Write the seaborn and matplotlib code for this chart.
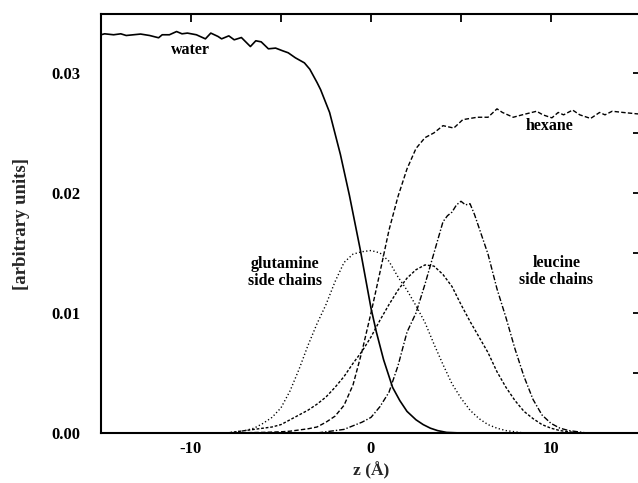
import matplotlib
matplotlib.use("Agg")
import matplotlib.pyplot as plt
import seaborn as sns
import pandas as pd

# --- density profiles across the interface (z in Angstrom) ---
water_z = [-15.0, -14.8, -14.3, -13.9, -13.6, -13.2, -12.8, -12.3, -11.8, -11.6,
           -11.2, -10.8, -10.5, -10.2, -9.7, -9.2, -8.9, -8.5, -8.3, -7.9,
           -7.6, -7.2, -6.7, -6.4, -6.1, -5.7, -5.3, -4.9, -4.6, -4.2,
           -3.7, -3.4, -3.0, -2.8, -2.3, -1.7, -1.2, -0.6, 0.0, 0.3,
           0.7, 1.2, 1.6, 2.0, 2.5, 2.9, 3.3, 3.7, 4.2, 5.0, 10.0, 15.0]
water_v = [0.03317, 0.03325, 0.03317, 0.03325, 0.03311, 0.03317, 0.03323, 0.03311, 0.03292, 0.03317,
           0.03317, 0.03344, 0.03325, 0.03331, 0.03317, 0.03283, 0.03331, 0.03303, 0.03283, 0.03308,
           0.03275, 0.03294, 0.03219, 0.03267, 0.03258, 0.03200, 0.03206, 0.03183, 0.03167, 0.03125,
           0.03083, 0.03030, 0.02920, 0.02860, 0.02670, 0.02320, 0.01980, 0.01530, 0.01040, 0.00840,
           0.00610, 0.00380, 0.00270, 0.00180, 0.00110, 0.00070, 0.00040, 0.00020, 0.00005, 0.0, 0.0, 0.0]

hexane_z = [-15.0, -8.0, -6.0, -5.0, -4.5, -4.0, -3.5, -3.0, -2.5, -2.0,
            -1.5, -1.0, -0.5, 0.0, 0.5, 1.0, 1.5, 2.0, 2.5, 3.0,
            3.5, 4.0, 4.6, 5.1, 5.5, 5.9, 6.5, 7.0, 7.3, 7.9,
            8.4, 9.2, 9.55, 10.05, 10.4, 10.7, 11.2, 11.6, 12.2, 12.7,
            13.0, 13.4, 14.0, 14.8, 15.0]
hexane_v = [0.0, 0.0, 0.00005, 0.0001, 0.00015, 0.00025, 0.00035, 0.0005, 0.0009, 0.0014,
            0.0023, 0.0040, 0.0068, 0.0100, 0.0134, 0.0169, 0.0197, 0.0220, 0.0237, 0.0246,
            0.0250, 0.0256, 0.0254, 0.0261, 0.0262, 0.0263, 0.0263, 0.0270, 0.0267, 0.0263,
            0.0265, 0.0268, 0.0265, 0.02625, 0.0267, 0.0265, 0.0269, 0.0265, 0.0262, 0.0267,
            0.0265, 0.0268, 0.0267, 0.02658, 0.0266]

glutamine_z = [-15.0, -8.0, -7.5, -7.0, -6.5, -6.0, -5.5, -5.0, -4.5, -4.0,
               -3.5, -3.0, -2.5, -2.0, -1.5, -1.0, -0.5, 0.0, 0.5, 1.0,
               1.5, 2.0, 2.5, 3.0, 3.5, 4.0, 4.5, 5.0, 5.5, 6.0,
               6.5, 7.0, 7.5, 8.0, 8.5, 15.0]
glutamine_v = [0.0, 0.0, 0.0001, 0.0002, 0.0004, 0.0008, 0.0013, 0.0021, 0.0035, 0.0053,
               0.0073, 0.0091, 0.0107, 0.0126, 0.0142, 0.0149, 0.0151, 0.0152, 0.0150, 0.0143,
               0.0130, 0.0119, 0.0106, 0.0092, 0.0074, 0.0057, 0.0041, 0.0029, 0.0019, 0.0012,
               0.0007, 0.0004, 0.0002, 0.0001, 0.0, 0.0]

# second, short-dashed distribution peaking near z = 3
middle_z = [-15.0, -8.0, -7.5, -7.0, -6.5, -6.0, -5.5, -5.0, -4.5, -4.0,
            -3.5, -3.0, -2.5, -2.0, -1.5, -1.0, -0.5, 0.0, 0.5, 1.0,
            1.5, 2.0, 2.5, 3.0, 3.5, 4.0, 4.5, 5.0, 5.5, 6.0,
            6.5, 7.0, 7.5, 8.0, 8.5, 9.0, 9.5, 10.0, 10.5, 11.0,
            11.5, 15.0]
middle_v = [0.0, 0.0, 0.0001, 0.0002, 0.0003, 0.0004, 0.0005, 0.0007, 0.0011, 0.0015,
            0.0019, 0.0024, 0.0030, 0.0038, 0.0047, 0.0058, 0.0068, 0.0080, 0.0094, 0.0107,
            0.0119, 0.0129, 0.0136, 0.0140, 0.0139, 0.0132, 0.0122, 0.0107, 0.0093, 0.0080,
            0.0067, 0.0051, 0.0038, 0.0027, 0.0018, 0.0012, 0.0007, 0.0004, 0.0002, 0.0001,
            0.0, 0.0]

leucine_z = [-15.0, -3.0, -2.5, -2.0, -1.5, -1.0, -0.5, 0.0, 0.5, 1.0,
             1.5, 2.0, 2.5, 3.0, 3.5, 4.0, 4.25, 4.5, 4.75, 5.0,
             5.25, 5.5, 5.75, 6.0, 6.5, 7.0, 7.5, 8.0, 8.5, 9.0,
             9.5, 10.0, 10.5, 11.0, 11.5, 12.0, 15.0]
leucine_v = [0.0, 0.0, 0.0001, 0.0002, 0.0003, 0.0006, 0.0009, 0.0013, 0.0022, 0.0034,
             0.0056, 0.0084, 0.0100, 0.0124, 0.0150, 0.0176, 0.0181, 0.0184, 0.0190, 0.0193,
             0.0190, 0.0191, 0.0182, 0.0171, 0.0149, 0.0120, 0.0096, 0.0070, 0.0047, 0.0028,
             0.0015, 0.0008, 0.0004, 0.0002, 0.0001, 0.0, 0.0]

x_ticks = [-15, -10, -5, 0, 5, 10, 15]
x_ticklabels = ["", "-10", "", "0", "", "10", ""]
y_ticks = [0.0, 0.005, 0.01, 0.015, 0.02, 0.025, 0.03]
y_ticklabels = ["0.00", "", "0.01", "", "0.02", "", "0.03"]

sns.set_theme(style="white")
plt.rcParams["font.family"] = ["Liberation Serif", "DejaVu Serif"]
plt.rcParams["font.weight"] = "bold"

fig = plt.figure(figsize=(6.38, 4.83), dpi=100)
ax = fig.add_axes([101 / 638, 50 / 483, 540 / 638, 419 / 483])

series = [
    (water_z, water_v, "-", 1.2),
    (hexane_z, hexane_v, (0, (3.2, 1.6)), 1.0),
    (glutamine_z, glutamine_v, (0, (0.9, 1.7)), 1.0),
    (middle_z, middle_v, (0, (2.0, 1.3)), 1.0),
    (leucine_z, leucine_v, (0, (4.0, 1.4, 1.0, 1.4)), 1.0),
]
for zs, vs, ls, lw in series:
    df = pd.DataFrame({"z": zs, "v": vs})
    sns.lineplot(data=df, x="z", y="v", ax=ax, color="black",
                 linewidth=lw, estimator=None, sort=True)
    ax.lines[-1].set_linestyle(ls)

ax.set_xlim(-15, 15)
ax.set_ylim(0, 0.0349)
ax.set_xticks(x_ticks)
ax.set_xticklabels(x_ticklabels)
ax.set_yticks(y_ticks)
ax.set_yticklabels(y_ticklabels)
ax.tick_params(direction="in", length=6, width=1.3, top=True, right=True,
               colors="black", labelsize=12)
ax.tick_params(axis="y", pad=15)
ax.tick_params(axis="x", pad=6)
for s in ax.spines.values():
    s.set_linewidth(1.5)
    s.set_color("black")

ax.set_xlabel("z (Å)", fontsize=12.5, fontweight="bold", labelpad=3)
ax.set_ylabel("[arbitrary units]", fontsize=13.5, fontweight="bold", labelpad=15)

txt = dict(fontsize=11.5, fontweight="bold", ha="center", va="center",
           color="black", linespacing=1.07)
ax.text(-10.05, 0.0319, "water", **txt)
ax.text(9.9, 0.0256, "hexane", **txt)
ax.text(-4.8, 0.01337, "glutamine\nside chains", **txt)
ax.text(10.3, 0.01345, "leucine\nside chains", **txt)

fig.savefig("out.png", dpi=100)
